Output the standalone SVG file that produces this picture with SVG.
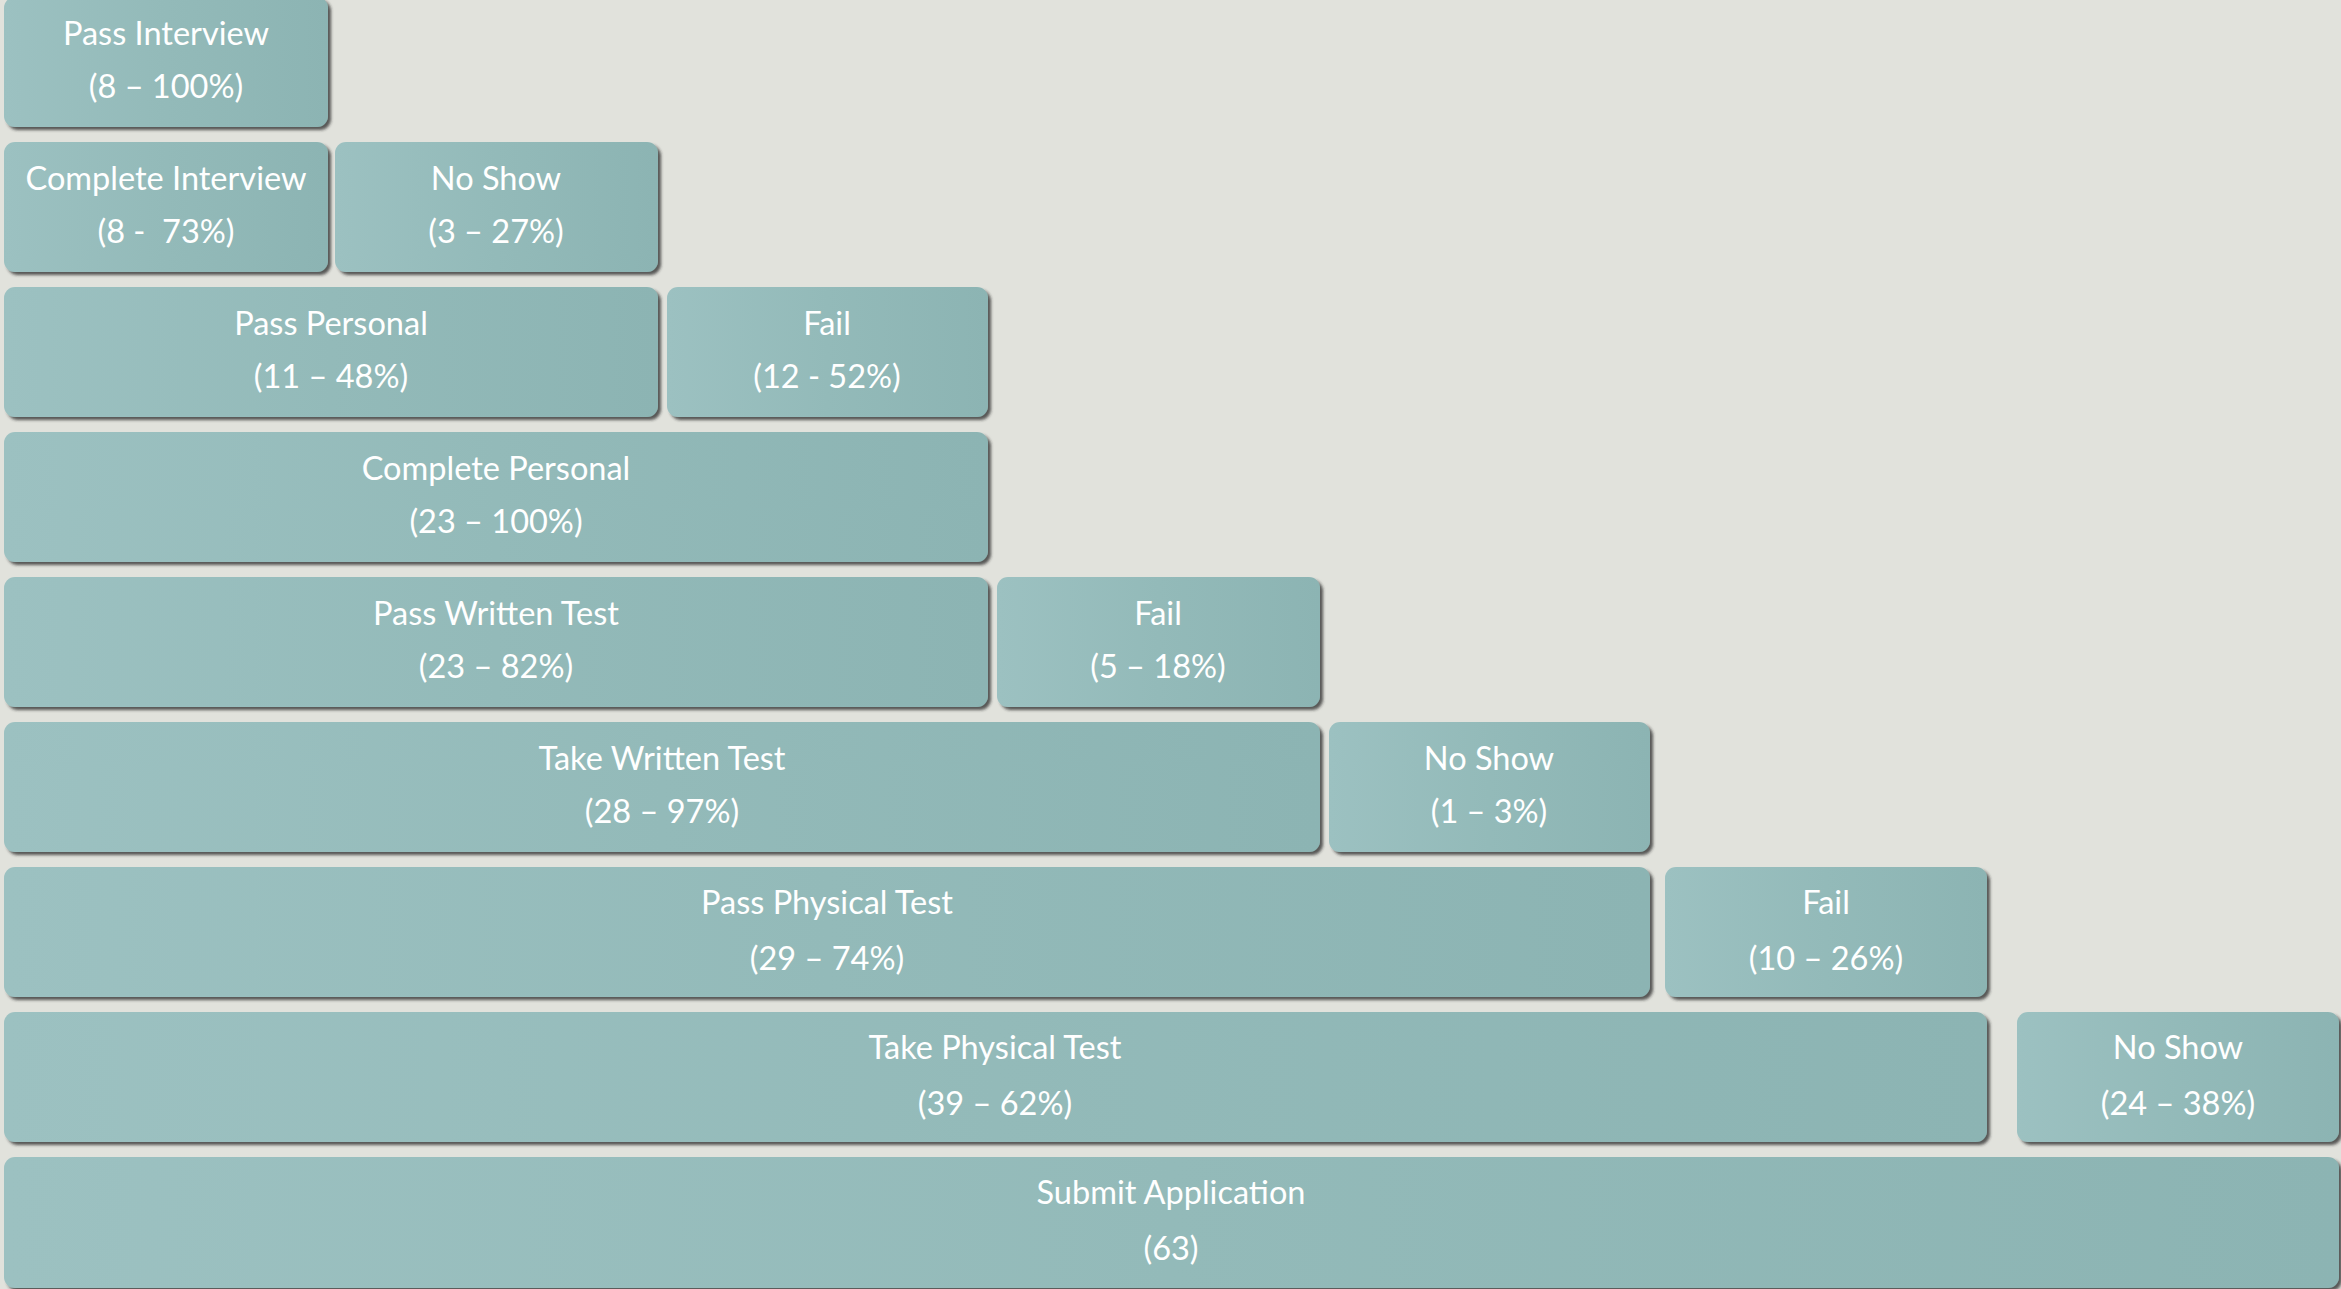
<svg xmlns="http://www.w3.org/2000/svg" width="2341" height="1289" viewBox="0 0 2341 1289">
<defs>
<linearGradient id="g" x1="0" y1="0" x2="1" y2="0">
<stop offset="0" stop-color="#9CC1C1"/>
<stop offset="0.5" stop-color="#93BAB9"/>
<stop offset="1" stop-color="#8CB4B3"/>
</linearGradient>
<filter id="sh" x="-5%" y="-10%" width="110%" height="125%">
<feDropShadow dx="3" dy="3" stdDeviation="1.5" flood-color="#2a2a2a" flood-opacity="0.75"/>
</filter>
</defs>
<style>
.b{fill:url(#g);filter:url(#sh)}
.t{font-family:Lato,"Liberation Sans",sans-serif;font-size:32.5px;fill:#FFFFFF;text-anchor:middle}
</style>
<rect width="2341" height="1289" fill="#E1E2DC"/>
<g id="connectors"/>
<g id="pass-interview"><rect class="b" x="4" y="-3" width="324" height="130" rx="11"/><text class="t" x="166" y="45">Pass Interview</text><text class="t" x="166" y="98">(8 – 100%)</text></g>
<g id="complete-interview"><rect class="b" x="4" y="142" width="324" height="130" rx="11"/><text class="t" x="166" y="190">Complete Interview</text><text class="t" x="166" y="243">(8 -&#160; 73%)</text></g>
<g id="noshow-interview"><rect class="b" x="335" y="142" width="323" height="130" rx="11"/><text class="t" x="496" y="190">No Show</text><text class="t" x="496" y="243">(3 – 27%)</text></g>
<g id="pass-personal"><rect class="b" x="4" y="287" width="654" height="130" rx="11"/><text class="t" x="331" y="335">Pass Personal</text><text class="t" x="331" y="388">(11 – 48%)</text></g>
<g id="fail-personal"><rect class="b" x="667" y="287" width="321" height="130" rx="11"/><text class="t" x="827" y="335">Fail</text><text class="t" x="827" y="388">(12 - 52%)</text></g>
<g id="complete-personal"><rect class="b" x="4" y="432" width="984" height="130" rx="11"/><text class="t" x="496" y="480">Complete Personal</text><text class="t" x="496" y="533">(23 – 100%)</text></g>
<g id="pass-written"><rect class="b" x="4" y="577" width="984" height="130" rx="11"/><text class="t" x="496" y="625">Pass Written Test</text><text class="t" x="496" y="678">(23 – 82%)</text></g>
<g id="fail-written"><rect class="b" x="997" y="577" width="323" height="130" rx="11"/><text class="t" x="1158" y="625">Fail</text><text class="t" x="1158" y="678">(5 – 18%)</text></g>
<g id="take-written"><rect class="b" x="4" y="722" width="1316" height="130" rx="11"/><text class="t" x="662" y="770">Take Written Test</text><text class="t" x="662" y="823">(28 – 97%)</text></g>
<g id="noshow-written"><rect class="b" x="1329" y="722" width="321" height="130" rx="11"/><text class="t" x="1489" y="770">No Show</text><text class="t" x="1489" y="823">(1 – 3%)</text></g>
<g id="pass-physical"><rect class="b" x="4" y="867" width="1646" height="130" rx="11"/><text class="t" x="827" y="914">Pass Physical Test</text><text class="t" x="827" y="970">(29 – 74%)</text></g>
<g id="fail-physical"><rect class="b" x="1665" y="867" width="322" height="130" rx="11"/><text class="t" x="1826" y="914">Fail</text><text class="t" x="1826" y="970">(10 – 26%)</text></g>
<g id="take-physical"><rect class="b" x="4" y="1012" width="1983" height="130" rx="11"/><text class="t" x="995" y="1059">Take Physical Test</text><text class="t" x="995" y="1115">(39 – 62%)</text></g>
<g id="noshow-physical"><rect class="b" x="2017" y="1012" width="322" height="130" rx="11"/><text class="t" x="2178" y="1059">No Show</text><text class="t" x="2178" y="1115">(24 – 38%)</text></g>
<g id="submit-application"><rect class="b" x="4" y="1157" width="2335" height="131" rx="11"/><text class="t" x="1171" y="1204">Submit Application</text><text class="t" x="1171" y="1260">(63)</text></g>
</svg>
